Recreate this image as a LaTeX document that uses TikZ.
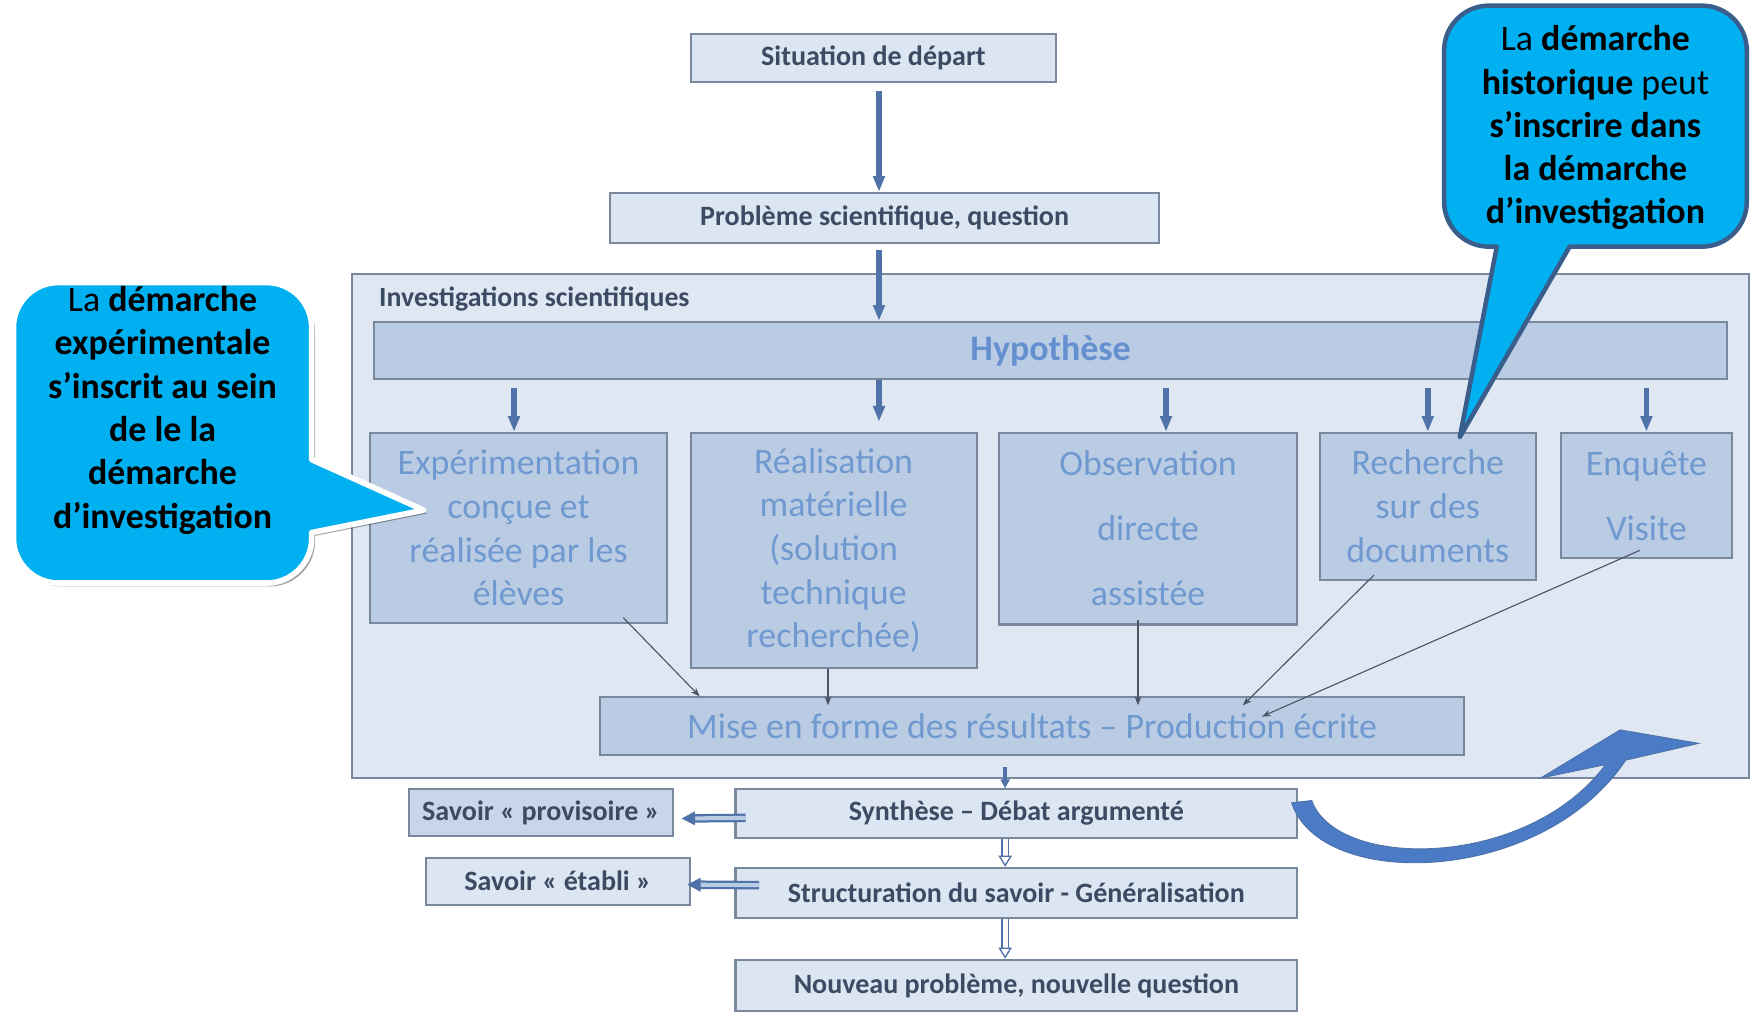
\documentclass[tikz,border=0pt]{standalone}
\usepackage{fontspec}
\setmainfont{Carlito}
\usetikzlibrary{arrows.meta,calc,positioning,shadows}

\definecolor{boxfill}{HTML}{DCE6F2}
\definecolor{boxline}{HTML}{7A889E}
\definecolor{framefill}{HTML}{DEE7F2}
\definecolor{actfill}{HTML}{B9CCE4}
\definecolor{darktext}{HTML}{3D4A63}
\definecolor{lighttext}{HTML}{7099D0}
\definecolor{hyptext}{HTML}{6590D0}
\definecolor{arrowblue}{HTML}{4F72A8}
\definecolor{linkgray}{HTML}{4A5568}
\definecolor{curveblue}{HTML}{4A7BC4}
\definecolor{bubblefill}{HTML}{00B0F0}
\definecolor{bubbleline}{HTML}{3A5E8C}

\begin{document}
\begin{tikzpicture}[x=0.5pt,y=-0.5pt,
  box/.style={draw=boxline,line width=0.9pt,fill=boxfill,inner sep=0pt,align=center},
  dark label/.style={font=\bfseries\fontsize{12.5pt}{15pt}\selectfont,text=darktext},
  light label/.style={fill=actfill,font=\fontsize{16pt}{19.5pt}\selectfont,text=lighttext},
  thick arrow/.style={draw=arrowblue,line width=2.4pt,-{Triangle[width=5pt,length=7pt]}},
  thin arrow/.style={draw=linkgray,line width=0.5pt,-{Stealth[length=4pt,width=3pt]}},
  hollow arrow/.style={draw=arrowblue,line width=0.6pt,double=white,double distance=2.2pt,
    -{Triangle[fill=white,width=6pt,length=5pt]}},
  savoir arrow/.style={draw=arrowblue,line width=1pt,double=actfill,double distance=1.8pt,
    -{Triangle[fill=arrowblue,width=6pt,length=6pt]}},
  bubble/.style={fill=bubblefill,line join=round},
  bubble text/.style={align=center,text=black,font=\fontsize{16pt}{19.3pt}\selectfont}]

\useasboundingbox (0,0) rectangle (1568,906);

% [style]{name}{x1}{y1}{x2}{y2}{text}, corners in picture units
\newcommand\BoxNode[7][]{%
  \pgfmathsetmacro\boxW{(#5-#3)/2}%
  \pgfmathsetmacro\boxH{(#6-#4)/2}%
  \node[box,minimum width=\boxW pt,minimum height=\boxH pt,#1] (#2)
    at ({(#3+#5)/2},{(#4+#6)/2}) {#7};%
}

% top of the chain
\BoxNode[dark label]{S}{616}{30}{942}{73}{Situation de départ}
\BoxNode[dark label]{P}{544}{172}{1034}{217}{Problème scientifique, question}

% the investigation frame
\BoxNode[fill=framefill,draw=boxline]{F}{314}{244}{1560}{694}{}
\node[anchor=west,dark label,font=\bfseries\fontsize{12.4pt}{14pt}\selectfont] (Ft)
  at ($(F.north west)+(18,24)$) {Investigations scientifiques};
\BoxNode[fill=actfill,text=hyptext,font=\bfseries\fontsize{16pt}{19pt}\selectfont]{H}{334}{287}{1540}{338}{Hypothèse}

\BoxNode[light label]{E1}{330}{386}{595}{556}{Expérimentation\\conçue et\\réalisée par les\\élèves}
\BoxNode[light label]{E2}{616}{386}{871}{596}{Réalisation\\matérielle\\(solution\\technique\\recherchée)}
\BoxNode[light label]{E3}{891}{386}{1157}{557}{Observation\\[9.5pt]directe\\[9.5pt]assistée}
\BoxNode[light label]{E4}{1177}{386}{1370}{517}{Recherche\\sur des\\documents}
\BoxNode[light label]{E5}{1392}{386}{1545}{498}{Enquête\\[9.5pt]Visite}
\BoxNode[light label]{M}{535}{622}{1306}{673}{Mise en forme des résultats – Production écrite}

% below the frame
\BoxNode[dark label]{Sy}{656}{704}{1157}{747}{Synthèse – Débat argumenté}
\BoxNode[dark label]{St}{656}{774}{1157}{819}{Structuration du savoir - Généralisation}
\BoxNode[dark label]{N}{656}{856}{1157}{902}{Nouveau problème, nouvelle question}
\BoxNode[dark label,fill={rgb,255:red,199;green,214;blue,234}]{Sp}{365}{704}{600}{746}{Savoir « provisoire »}
\BoxNode[dark label]{Se}{380}{765}{615}{807}{Savoir « établi »}

% thick arrows down the chain
\coordinate (p1) at ($(P.south)+(-5,5)$);
\draw[thick arrow] ($(S.south)+(5,7)$) -- ($(P.north)+(-5,0)$);
\draw[thick arrow] (p1) -- (p1 |- H.north);
\draw[thick arrow] ($(H.south -| E1.north)+(-4,7)$) -- ($(E1.north)+(-4,0)$);
\draw[thick arrow] (p1 |- H.south) -- ($(p1 |- E2.north)+(0,-9)$);
\draw[thick arrow] ($(H.south -| E3.north)+(16,7)$) -- ($(E3.north)+(16,0)$);
\foreach \n in {E4,E5}
  \draw[thick arrow] ($(H.south -| \n.north)+(0,7)$) -- (\n.north);

% thin links into the results box
\coordinate (c2) at ($(E2.south)+(-5,0)$);
\draw[thin arrow] ($(E1.south east)+(-40,-6)$) -- ($(M.north west)+(90,0)$);
\draw[thin arrow] (c2) -- ($(c2 |- M.north)+(0,8)$);
\draw[thin arrow] ($(E3.south)+(-9,-5)$) -- ($(E3.south |- M.north)+(-9,8)$);
\draw[thin arrow] ($(E4.south)+(-48,-5)$) -- ($(M.north)+(188,8)$);
\draw[thin arrow] ($(E5.south)+(-6,-8)$) -- ($(M.north)+(205,18)$);

% from the frame to the synthesis
\draw[thick arrow,line width=2pt,-{Triangle[width=4pt,length=4pt]}]
  ($(M.south)+(-24,10)$) -- ($(Sy.north)+(-10,0)$);
\draw[hollow arrow] ($(Sy.south)+(-10,0)$) -- ($(St.north)+(-10,0)$);
\draw[hollow arrow] ($(St.south)+(-10,0)$) -- ($(N.north)+(-10,0)$);
\draw[savoir arrow] ($(Sy.west)+(10,4)$) -- ($(Sp.east)+(7,5)$);
\draw[savoir arrow] ($(St.west)+(22,-7)$) -- ($(Se.east)+(-3,3)$);

% big curved return arrow
\fill[curveblue,draw=arrowblue,line width=0.4pt]
  (1152,716) .. controls (1178,795) and (1375,790) .. (1450,678)
  -- (1515,663) -- (1445,651) -- (1374,694) -- (1432,682)
  .. controls (1362,776) and (1192,776) .. (1170,714) -- cycle;

% left bubble, white rim and shadow
\path[bubble,draw=white,line width=2.5pt,
      drop shadow={shadow xshift=1.5pt,shadow yshift=-1.5pt,opacity=.35,fill=black}]
  (52,252) -- (238,252) .. controls (260,252) and (278,270) .. (278,292)
  -- (278,410) -- (378,455) -- (278,475) -- (278,480)
  .. controls (278,502) and (260,520) .. (238,520) -- (52,520)
  .. controls (30,520) and (12,502) .. (12,480) -- (12,292)
  .. controls (12,270) and (30,252) .. (52,252) -- cycle;
\node[bubble text] (BL) at (145,366)
  {La \textbf{démarche}\\ \textbf{expérimentale}\\ \textbf{s’inscrit au sein}\\
   \textbf{de le la}\\ \textbf{démarche}\\ \textbf{d’investigation}};

% right bubble
\path[bubble,draw=bubbleline,line width=2pt]
  (1328,5) -- (1518,5) .. controls (1540,5) and (1558,23) .. (1558,45)
  -- (1558,180) .. controls (1558,202) and (1540,220) .. (1518,220)
  -- (1400,220) -- (1302,390) -- (1335,220) -- (1328,220)
  .. controls (1306,220) and (1288,202) .. (1288,180) -- (1288,45)
  .. controls (1288,23) and (1306,5) .. (1328,5) -- cycle;
\node[bubble text] (BR) at (1423,114)
  {La \textbf{démarche}\\ \textbf{historique} peut\\ \textbf{s’inscrire dans}\\
   \textbf{la démarche}\\ \textbf{d’investigation}};
\end{tikzpicture}
\end{document}
